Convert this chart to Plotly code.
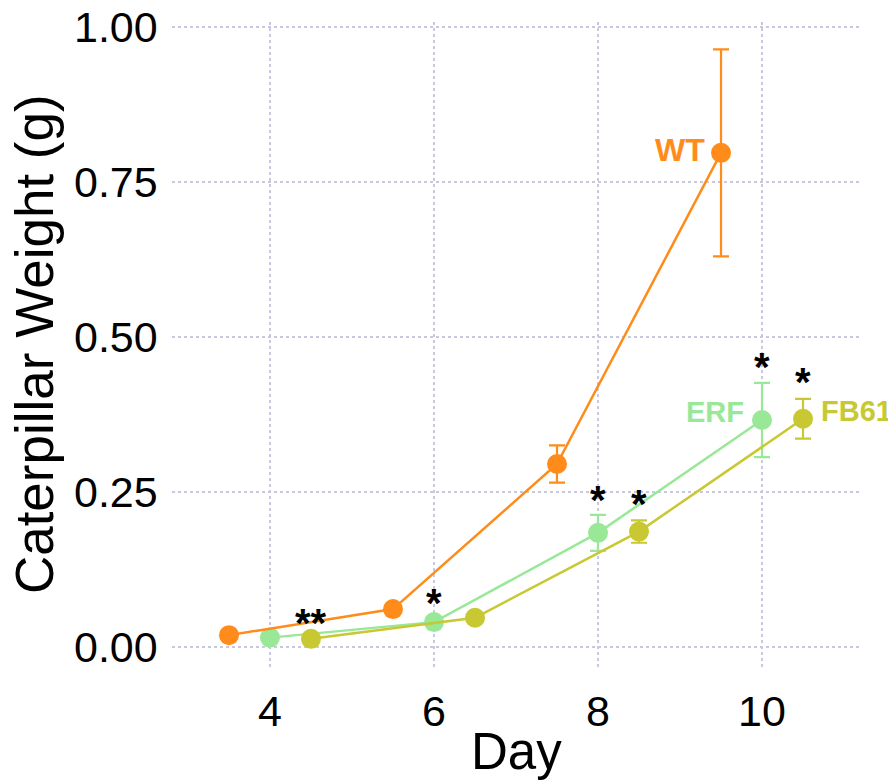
import plotly.graph_objects as go

# Data
wt_day = [3.5, 5.5, 7.5, 9.5]
wt_weight = [0.019, 0.061, 0.295, 0.797]
wt_err = [0.004, 0.006, 0.030, 0.167]

erf_day = [4, 6, 8, 10]
erf_weight = [0.015, 0.040, 0.184, 0.366]
erf_err = [0.003, 0.006, 0.029, 0.060]

fb_day = [4.5, 6.5, 8.5, 10.5]
fb_weight = [0.013, 0.047, 0.186, 0.368]
fb_err = [0.003, 0.005, 0.018, 0.032]

star_x = [4.5, 6, 8, 8.5, 10, 10.5]
star_y = [0.052, 0.084, 0.250, 0.244, 0.465, 0.440]
star_txt = ["**", "*", "*", "*", "*", "*"]

x_ticks = [4, 6, 8, 10]
y_ticks = [0.00, 0.25, 0.50, 0.75, 1.00]
y_tick_labels = ["0.00", "0.25", "0.50", "0.75", "1.00"]

C_WT = "#FF8C1A"
C_ERF = "#98E898"
C_FB = "#C8C832"

FONT = "Liberation Sans, Arial, Helvetica, sans-serif"

fig = go.Figure()

def add_series(x, y, e, color):
    fig.add_trace(go.Scatter(
        x=x, y=y, mode="lines+markers",
        line=dict(color=color, width=2.5),
        marker=dict(color=color, size=20),
        error_y=dict(type="data", array=e, visible=True, color=color,
                     thickness=2.2, width=8),
        showlegend=False, cliponaxis=False,
    ))

add_series(erf_day, erf_weight, erf_err, C_ERF)
add_series(fb_day, fb_weight, fb_err, C_FB)
add_series(wt_day, wt_weight, wt_err, C_WT)

for sx, sy, st in zip(star_x, star_y, star_txt):
    fig.add_annotation(x=sx, y=sy, text="<b>" + st + "</b>", showarrow=False,
                       font=dict(family=FONT, size=40, color="black"),
                       xanchor="center", yanchor="middle", yshift=-8)

fig.add_annotation(x=wt_day[-1], y=wt_weight[-1], text="<b>WT</b>", showarrow=False,
                   font=dict(family=FONT, size=32, color=C_WT),
                   xanchor="right", yanchor="middle", xshift=-14, yshift=3)
fig.add_annotation(x=erf_day[-1], y=erf_weight[-1], text="<b>ERF</b>", showarrow=False,
                   font=dict(family=FONT, size=29, color=C_ERF),
                   xanchor="right", yanchor="middle", xshift=-16, yshift=8)
fig.add_annotation(x=fb_day[-1], y=fb_weight[-1], text="<b>FB61</b>", showarrow=False,
                   font=dict(family=FONT, size=29, color=C_FB),
                   xanchor="left", yanchor="middle", xshift=16, yshift=8)

# Y tick labels (as annotations so the top one is not dropped near the edge)
for v, lab in zip(y_ticks, y_tick_labels):
    fig.add_annotation(xref="paper", yref="y", x=0, y=v, text=lab,
                       showarrow=False, font=dict(family=FONT, size=43, color="black"),
                       xanchor="right", yanchor="middle", xshift=-12)

# Axis titles
fig.add_annotation(xref="paper", yref="paper", x=0.5, y=-0.130, text="Day",
                   showarrow=False, font=dict(family=FONT, size=51, color="black"),
                   xanchor="center", yanchor="middle")
fig.add_annotation(xref="paper", yref="paper", x=-0.200, y=0.502,
                   text="Caterpillar Weight (g)", textangle=-90,
                   showarrow=False, font=dict(family=FONT, size=53, color="black"),
                   xanchor="center", yanchor="middle")

grid = dict(showgrid=True, gridcolor="#C8C8DE", gridwidth=2, griddash="dot",
            zeroline=False, showline=False, ticks="", automargin=False)

fig.update_xaxes(range=[2.805, 11.195], tickvals=x_ticks,
                 ticktext=[str(v) for v in x_ticks],
                 tickfont=dict(family=FONT, size=43, color="black"),
                 ticklabelstandoff=14, **grid)
fig.update_yaxes(range=[-0.034, 1.008], tickvals=y_ticks,
                 showticklabels=False, **grid)

fig.update_layout(width=896, height=782,
                  margin=dict(l=164, r=44, t=14, b=122),
                  plot_bgcolor="white", paper_bgcolor="white",
                  font=dict(family=FONT))

fig.write_html("out.html")
